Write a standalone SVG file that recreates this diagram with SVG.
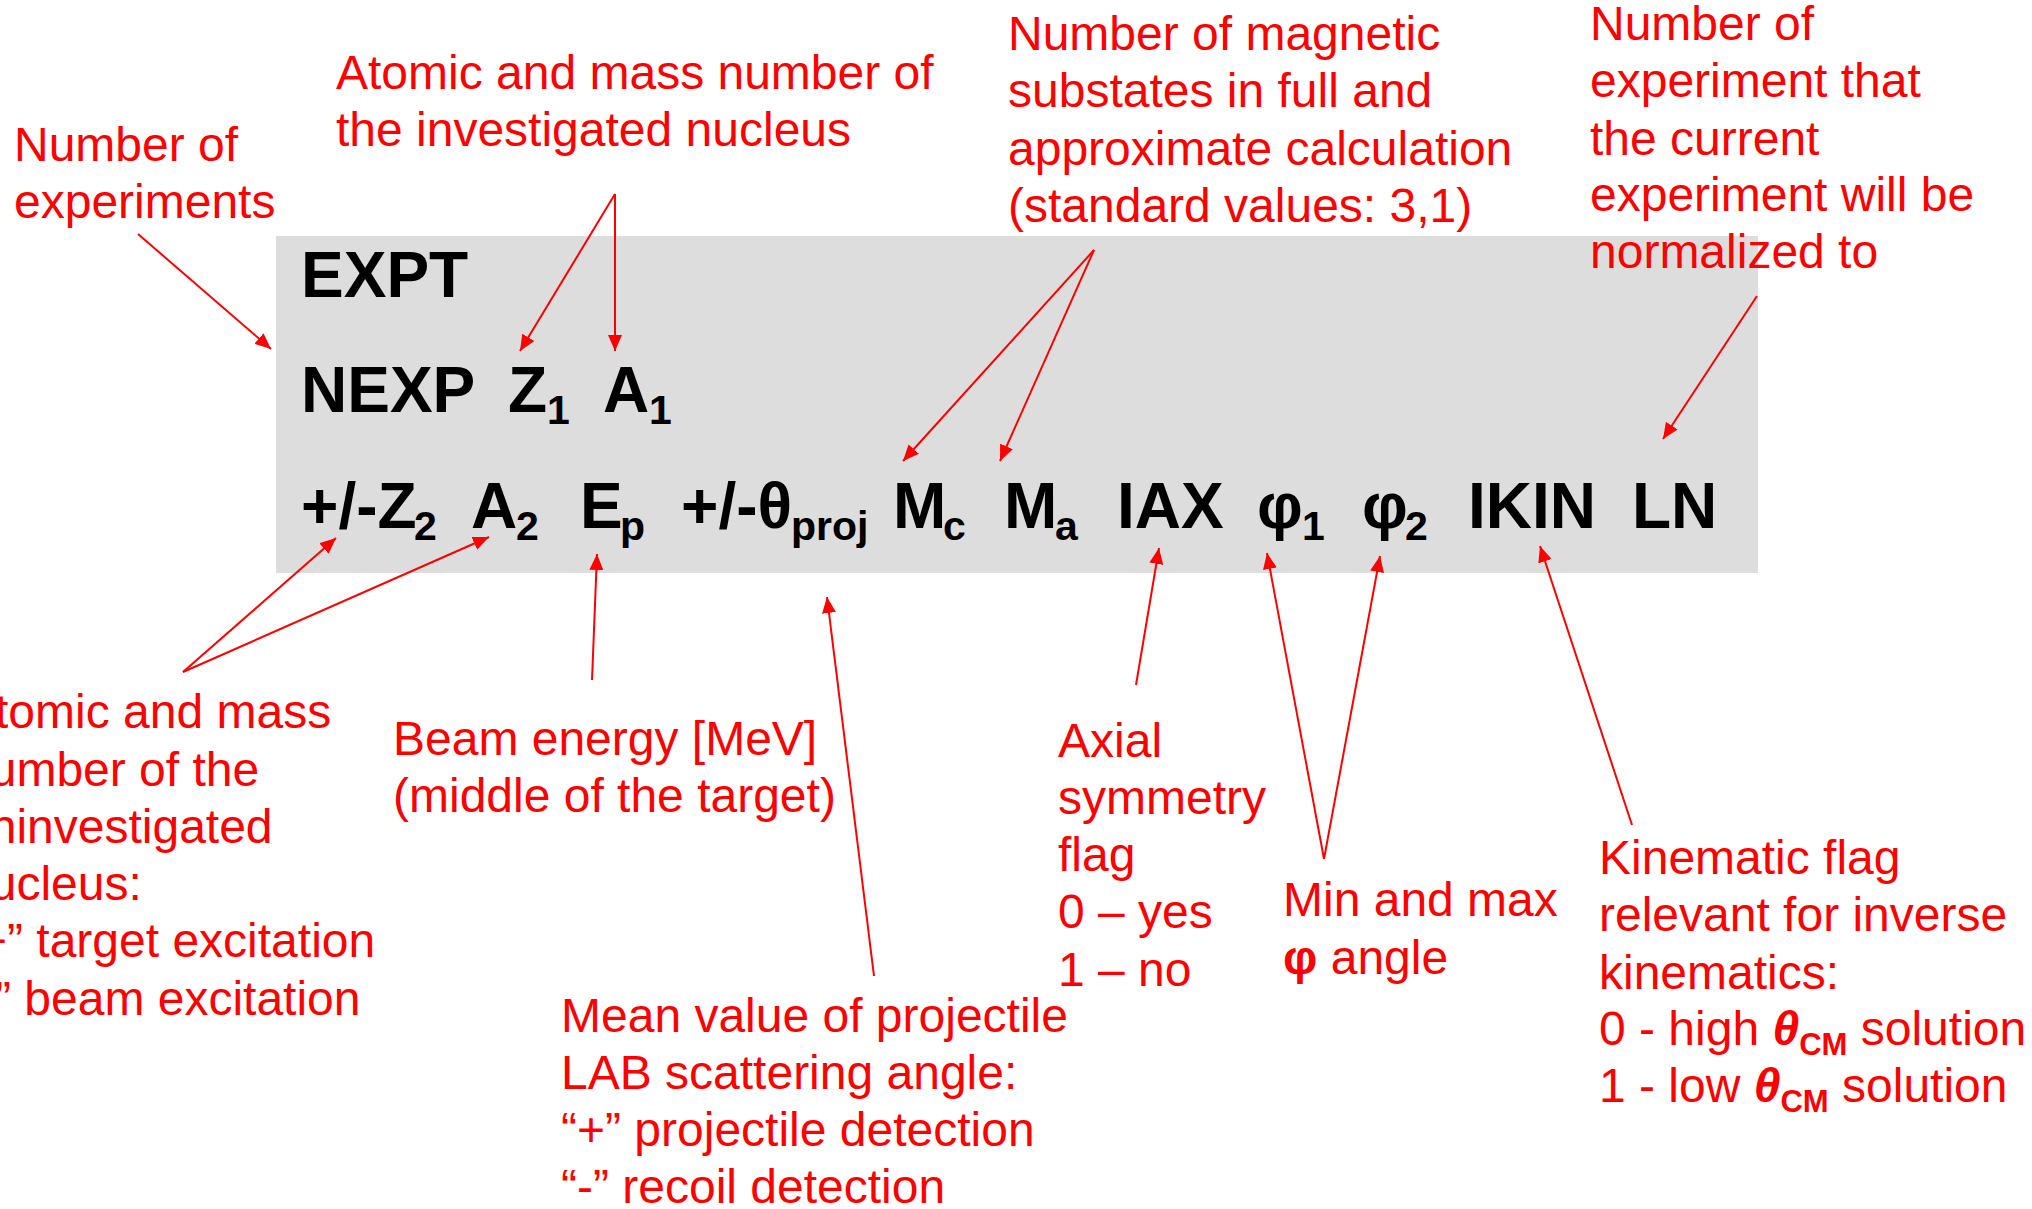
<svg xmlns="http://www.w3.org/2000/svg" width="2032" height="1209" viewBox="0 0 2032 1209">
<defs>
<style>
.lbl{font-family:"Liberation Sans",Arial,sans-serif;font-size:48px;fill:#FF0000}
.code{font-family:"Liberation Sans",Arial,sans-serif;font-size:64px;font-weight:bold;fill:#000}
.sub{font-size:41px}
.cm{font-size:31px;font-weight:bold}
.b{font-weight:bold}
.conn line{stroke:#FF0000;stroke-width:2;fill:none;marker-end:url(#ah)}
</style>
<marker id="ah" viewBox="0 0 16 14" refX="16" refY="7" markerWidth="16" markerHeight="14" markerUnits="userSpaceOnUse" orient="auto">
<path d="M0,0 L16,7 L0,14 z" fill="#FF0000"/>
</marker>
</defs>
<rect width="2032" height="1209" fill="#FFFFFF"/>

<g id="card">
<rect x="276" y="236" width="1482" height="337" fill="#DDDDDD"/>
<text class="code" x="301" y="297">EXPT</text>
<text class="code" y="412"><tspan x="301">NEXP</tspan><tspan x="508">Z</tspan><tspan class="sub" x="547" y="424">1</tspan><tspan x="603" y="412">A</tspan><tspan class="sub" x="649" y="424">1</tspan></text>
<text class="code" y="528"><tspan x="301">+/-Z</tspan><tspan class="sub" x="414" y="540">2</tspan><tspan x="471" y="528">A</tspan><tspan class="sub" x="516" y="540">2</tspan><tspan x="580" y="528">E</tspan><tspan class="sub" x="620" y="540">p</tspan><tspan x="681" y="528">+/-θ</tspan><tspan class="sub" x="791" y="540">proj</tspan><tspan x="893" y="528">M</tspan><tspan class="sub" x="943" y="540">c</tspan><tspan x="1004" y="528">M</tspan><tspan class="sub" x="1055" y="540">a</tspan><tspan x="1117" y="528">IAX</tspan><tspan x="1257" y="528">φ</tspan><tspan class="sub" x="1302" y="540">1</tspan><tspan x="1362" y="528">φ</tspan><tspan class="sub" x="1405" y="540">2</tspan><tspan x="1468" y="528">IKIN</tspan><tspan x="1632" y="528">LN</tspan></text>
</g>

<g id="n-nexp"><text class="lbl"><tspan x="14" y="161">Number of</tspan><tspan x="14" y="218">experiments</tspan></text></g>
<g id="n-za1"><text class="lbl"><tspan x="336" y="89">Atomic and mass number of</tspan><tspan x="336" y="146">the investigated nucleus</tspan></text></g>
<g id="n-mag"><text class="lbl"><tspan x="1008" y="50">Number of magnetic</tspan><tspan x="1008" y="107">substates in full and</tspan><tspan x="1008" y="165">approximate calculation</tspan><tspan x="1008" y="222">(standard values: 3,1)</tspan></text></g>
<g id="n-ln"><text class="lbl"><tspan x="1590" y="40">Number of</tspan><tspan x="1590" y="97">experiment that</tspan><tspan x="1590" y="155">the current</tspan><tspan x="1590" y="211">experiment will be</tspan><tspan x="1590" y="268">normalized to</tspan></text></g>
<g id="n-za2"><text class="lbl"><tspan x="-37" y="728">Atomic and mass</tspan><tspan x="-37" y="786">number of the</tspan><tspan x="-37" y="843">uninvestigated</tspan><tspan x="-37" y="900">nucleus:</tspan><tspan x="-37" y="957">“+” target excitation</tspan><tspan x="-37" y="1015">“-” beam excitation</tspan></text></g>
<g id="n-ep"><text class="lbl"><tspan x="393" y="755">Beam energy [MeV]</tspan><tspan x="393" y="812">(middle of the target)</tspan></text></g>
<g id="n-theta"><text class="lbl"><tspan x="561" y="1032">Mean value of projectile</tspan><tspan x="561" y="1089">LAB scattering angle:</tspan><tspan x="561" y="1146">“+” projectile detection</tspan><tspan x="561" y="1203">“-” recoil detection</tspan></text></g>
<g id="n-iax"><text class="lbl"><tspan x="1058" y="757">Axial</tspan><tspan x="1058" y="814">symmetry</tspan><tspan x="1058" y="871">flag</tspan><tspan x="1058" y="928">0 – yes</tspan><tspan x="1058" y="986">1 – no</tspan></text></g>
<g id="n-phi"><text class="lbl"><tspan x="1283" y="916">Min and max</tspan><tspan x="1283" y="974" class="b">φ</tspan><tspan> angle</tspan></text></g>
<g id="n-ikin"><text class="lbl"><tspan x="1599" y="874">Kinematic flag</tspan><tspan x="1599" y="931">relevant for inverse</tspan><tspan x="1599" y="989">kinematics:</tspan><tspan x="1599" y="1045">0 - high </tspan><tspan class="b" font-style="italic">θ</tspan><tspan class="cm" dy="10">CM</tspan><tspan dy="-10"> solution</tspan><tspan x="1599" y="1102">1 - low </tspan><tspan class="b" font-style="italic">θ</tspan><tspan class="cm" dy="10">CM</tspan><tspan dy="-10"> solution</tspan></text></g>

<g id="connectors" class="conn">
<line x1="138" y1="234" x2="271" y2="349"/>
<line x1="615" y1="194" x2="520" y2="351"/>
<line x1="615" y1="194" x2="615" y2="351"/>
<line x1="1094" y1="250" x2="903" y2="461"/>
<line x1="1094" y1="250" x2="1000" y2="461"/>
<line x1="1757" y1="296" x2="1663" y2="439"/>
<line x1="183" y1="672" x2="336" y2="538"/>
<line x1="183" y1="672" x2="489" y2="537"/>
<line x1="592" y1="680" x2="597" y2="554"/>
<line x1="874" y1="976" x2="827" y2="597"/>
<line x1="1136" y1="685" x2="1159" y2="548"/>
<line x1="1324" y1="859" x2="1267" y2="553"/>
<line x1="1324" y1="859" x2="1380" y2="556"/>
<line x1="1632" y1="825" x2="1540" y2="546"/>
</g>
</svg>
